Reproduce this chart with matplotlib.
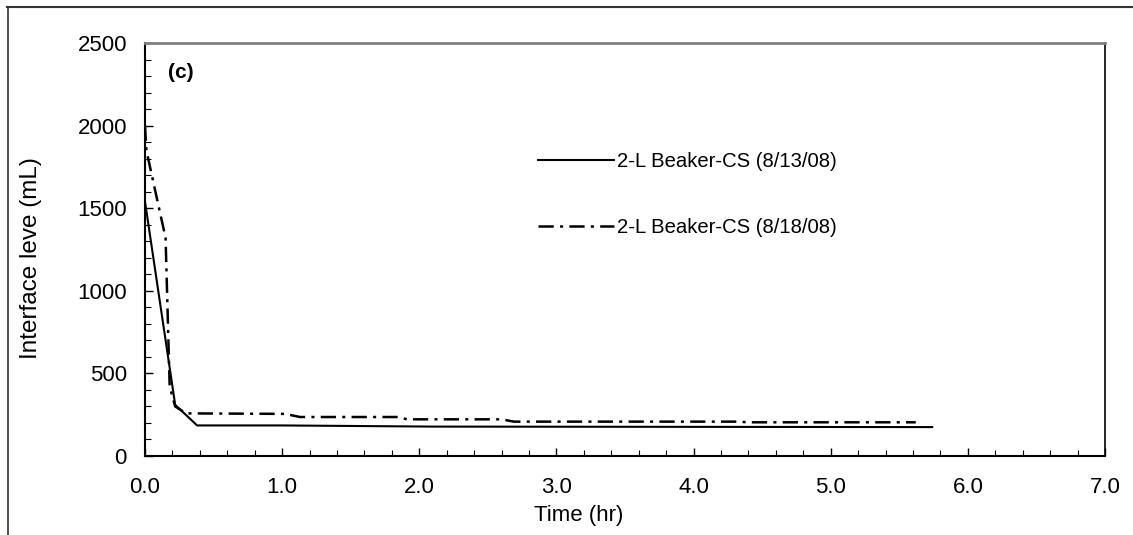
import matplotlib
matplotlib.use("Agg")
import matplotlib.pyplot as plt
from matplotlib.lines import Line2D
from matplotlib.ticker import MultipleLocator

plt.rcParams['font.family'] = ['Liberation Sans', 'DejaVu Sans']
plt.rcParams['lines.scale_dashes'] = False

# Data
t_0813 = [0.0, 0.22, 0.38, 1.0, 2.1, 5.74]
v_0813 = [1540, 310, 185, 185, 178, 175]

t_0818 = [0.0, 0.01, 0.15, 0.18, 0.22, 0.30, 1.02, 1.13, 1.85, 1.91, 2.60, 2.69, 4.32, 4.40, 5.62]
v_0818 = [2000, 1850, 1320, 420, 300, 258, 255, 236, 236, 222, 222, 208, 208, 204, 204]

label_0813 = "2-L Beaker-CS (8/13/08)"
label_0818 = "2-L Beaker-CS (8/18/08)"
xlabel = "Time (hr)"
ylabel = "Interface leve (mL)"
panel = "(c)"

W, H = 1133, 535
fig = plt.figure(figsize=(W / 100, H / 100), dpi=100)
ax = fig.add_axes([145 / W, 1 - 456 / H, 960 / W, 413 / H])

ax.plot(t_0813, v_0813, color='black', lw=1.5, label=label_0813)
ax.plot(t_0818, v_0818, color='black', lw=1.8, dashes=(11, 4.5, 2.2, 4.5),
        label=label_0818)

ax.set_xlim(0, 7)
ax.set_ylim(0, 2500)
ax.xaxis.set_major_locator(MultipleLocator(1))
ax.xaxis.set_minor_locator(MultipleLocator(0.2))
ax.yaxis.set_major_locator(MultipleLocator(500))
ax.yaxis.set_minor_locator(MultipleLocator(100))
ax.xaxis.set_major_formatter(matplotlib.ticker.FormatStrFormatter('%.1f'))
ax.yaxis.set_major_formatter(matplotlib.ticker.FormatStrFormatter('%d'))

ax.tick_params(axis='both', which='major', direction='in', length=6, width=1,
               labelsize=16, color='black')
ax.tick_params(axis='both', which='minor', direction='in', length=4, width=0.8,
               color='black')
ax.tick_params(axis='x', which='major', pad=15)
ax.tick_params(axis='y', which='major', pad=13)
ax.tick_params(top=False, right=False, which='both')

for s in ['left', 'bottom']:
    ax.spines[s].set_linewidth(1.5)
    ax.spines[s].set_color('black')
ax.spines['top'].set_color('#808080')
ax.spines['top'].set_linewidth(2)
ax.spines['right'].set_color('black')
ax.spines['right'].set_linewidth(1.2)

ax.set_xlabel(xlabel, fontsize=16)
ax.xaxis.set_label_coords((579 - 145) / 960, (456 - 515) / 413)
ax.xaxis.label.set_va('center')
ax.set_ylabel(ylabel, fontsize=17.5)
ax.yaxis.set_label_coords((31 - 145) / 960, (456 - 258) / 413)
ax.yaxis.label.set_va('center')

ax.text((168 - 145) / 960, (456 - 72) / 413, panel, transform=ax.transAxes,
        fontsize=15, fontweight='bold', va='center', ha='left')

ax.legend(loc='upper left', bbox_to_anchor=(0.409, 0.735), frameon=False,
          fontsize=14.6, handlelength=3.75, handletextpad=0.15,
          labelspacing=2.3, borderpad=0, borderaxespad=0)

# outer frame (top and left edges)
fig.add_artist(Line2D([7 / W, 1], [1 - 7 / H, 1 - 7 / H], transform=fig.transFigure,
                      color='#333333', lw=1.5))
fig.add_artist(Line2D([8 / W, 8 / W], [0, 1 - 7 / H], transform=fig.transFigure,
                      color='#333333', lw=1.2))

fig.savefig("out.png", dpi=100)
